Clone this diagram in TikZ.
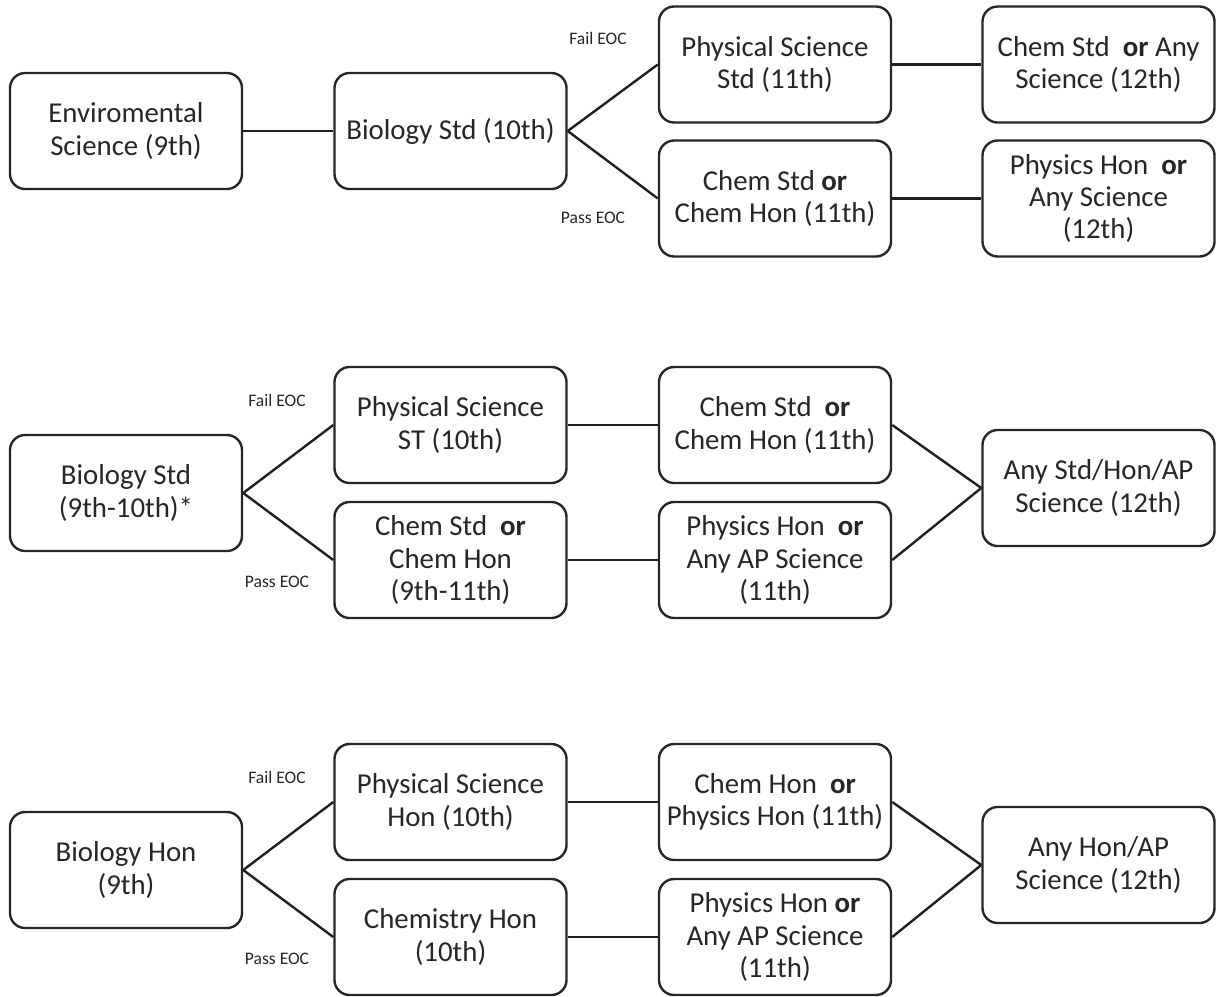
\documentclass[tikz,border=0pt]{standalone}
\usepackage{fontspec}
\setmainfont{Carlito}
\usepackage{tikz}
\tikzset{
  course/.style={draw=black!85, line width=1.7pt, rounded corners=0.38cm, fill=white,
    minimum width=5.8cm, minimum height=2.9cm, align=center, text=black!85,
    inner sep=2pt, font=\fontsize{20.5}{23}\selectfont},
  link/.style={line width=1.7pt, draw=black!88},
  eoc/.style={font=\fontsize{12.5}{14}\selectfont, text=black!85},
}

\begin{document}
\begin{tikzpicture}[x=0.025cm, y=-0.025cm]
\useasboundingbox (0,0) rectangle (1220,996);
\node[course] (env) at (126,131) {Enviromental\\Science (9th)};
\node[course] (bioten) at (450.5,131) {Biology Std (10th)};
\node[course] (physstd) at (775,64.5) {Physical Science\\Std (11th)};
\node[course] (chemany) at (1098.5,64.5) {Chem Std\ \ \textbf{or} Any\\Science (12th)};
\node[course] (chemeleven) at (775,198.5) {Chem Std \textbf{or}\\Chem Hon (11th)};
\node[course] (physany) at (1098.5,198.5) {Physics Hon\ \ \textbf{or}\\Any Science\\(12th)};
\node[eoc] (failone) at (598,38) {Fail EOC};
\node[eoc] (passone) at (593,218) {Pass EOC};
\draw[link] (env) -- (bioten);
\draw[link] (bioten.east) -- (physstd.west);
\draw[link] (bioten.east) -- (chemeleven.west);
\draw[link] (physstd) -- (chemany);
\draw[link] (chemeleven) -- (physany);
\node[course] (biostd) at (126,493) {Biology Std\\(9th-10th)*};
\node[course] (physst) at (450.5,425) {Physical Science\\ST (10th)};
\node[course] (chemnine) at (450.5,560) {Chem Std\ \ \textbf{or}\\Chem Hon\\(9th-11th)};
\node[course] (chemhonel) at (775,425) {Chem Std\ \ \textbf{or}\\Chem Hon (11th)};
\node[course] (physap) at (775,560) {Physics Hon\ \ \textbf{or}\\Any AP Science\\(11th)};
\node[course] (anystd) at (1098.5,488) {Any Std/Hon/AP\\Science (12th)};
\node[eoc] (failtwo) at (277,400) {Fail EOC};
\node[eoc] (passtwo) at (277,582) {Pass EOC};
\draw[link] (biostd.east) -- (physst.west);
\draw[link] (biostd.east) -- (chemnine.west);
\draw[link] (physst) -- (chemhonel);
\draw[link] (chemnine) -- (physap);
\draw[link] (chemhonel.east) -- (anystd.west);
\draw[link] (physap.east) -- (anystd.west);
\node[course] (biohon) at (126,870) {Biology Hon\\(9th)};
\node[course] (physhon) at (450.5,802) {Physical Science\\Hon (10th)};
\node[course] (chemhon) at (450.5,937) {Chemistry Hon\\(10th)};
\node[course] (chemphys) at (775,802) {Chem Hon\ \ \textbf{or}\\Physics Hon (11th)};
\node[course] (physaptwo) at (775,937) {Physics Hon \textbf{or}\\Any AP Science\\(11th)};
\node[course] (anyhon) at (1098.5,865) {Any Hon/AP\\Science (12th)};
\node[eoc] (failthree) at (277,777) {Fail EOC};
\node[eoc] (passthree) at (277,959) {Pass EOC};
\draw[link] (biohon.east) -- (physhon.west);
\draw[link] (biohon.east) -- (chemhon.west);
\draw[link] (physhon) -- (chemphys);
\draw[link] (chemhon) -- (physaptwo);
\draw[link] (chemphys.east) -- (anyhon.west);
\draw[link] (physaptwo.east) -- (anyhon.west);
\end{tikzpicture}
\end{document}
